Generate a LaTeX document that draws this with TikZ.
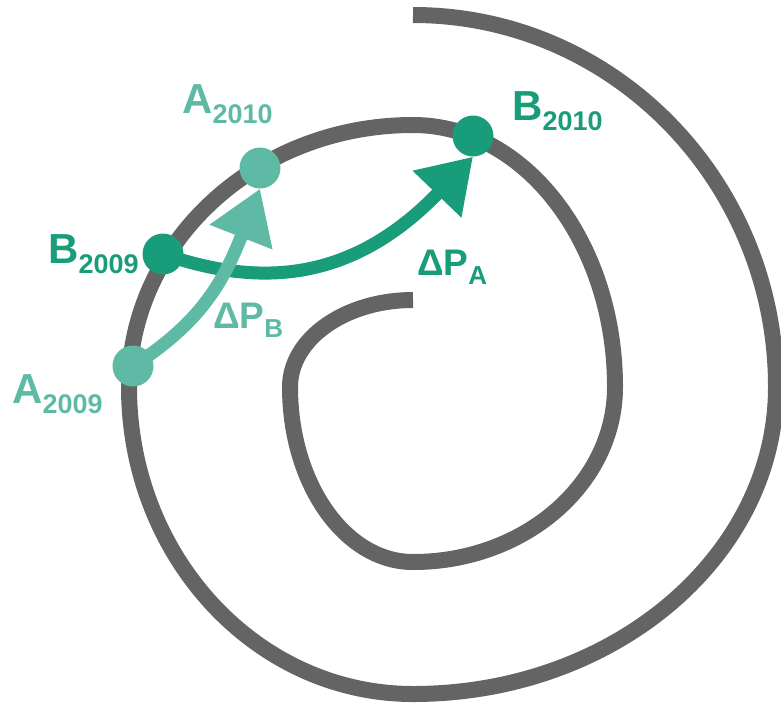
\documentclass[tikz,border=0pt]{standalone}
\usepackage{fontspec}
\setmainfont{Liberation Sans}
\usepackage{xcolor}
\usepackage{tikz}
\usetikzlibrary{arrows.meta}

\definecolor{spiralgray}{RGB}{100,100,100}
\definecolor{tealdark}{RGB}{25,156,122}
\definecolor{teallight}{RGB}{94,186,164}

\newcommand{\yearlbl}[2]{#1\raisebox{-10pt}{\fontsize{27}{27}\selectfont #2}}
\newcommand{\shiftlbl}[1]{{\fontsize{37}{37}\selectfont ΔP}\raisebox{-9pt}{\fontsize{26}{26}\selectfont #1}}

\begin{document}
\begin{tikzpicture}[x=1pt, y=-1pt,
  spiral/.style={spiralgray, line width=16pt},
  dot/.style={circle, inner sep=0pt, minimum size=41pt},
  lbl/.style={inner sep=0pt, anchor=base west, font=\bfseries\fontsize{42}{42}\selectfont},
  dlbl/.style={inner sep=0pt, anchor=base west, font=\bfseries},
  shiftarrow/.style={line width=13pt, -{Triangle[length=52pt, width=64pt]}}]
\useasboundingbox (0,0) rectangle (781,705);
\draw[spiral] (413,15)
  arc[start angle=-90, end angle=0, x radius=363, y radius=372]
  arc[start angle=0, end angle=90, x radius=363, y radius=307]
  arc[start angle=90, end angle=180, x radius=284, y radius=307]
  arc[start angle=180, end angle=270, x radius=284, y radius=262]
  arc[start angle=270, end angle=360, x radius=202, y radius=262]
  arc[start angle=0, end angle=90, x radius=202, y radius=175]
  arc[start angle=90, end angle=180, x radius=123, y radius=175]
  arc[start angle=180, end angle=270, x radius=123, y radius=87];
\node[dot, fill=teallight] (a2009) at (133,366) {};
\node[dot, fill=teallight] (a2010) at (260,168) {};
\node[dot, fill=tealdark] (b2009) at (163,254) {};
\node[dot, fill=tealdark] (b2010) at (473,136) {};
\draw[shiftarrow, tealdark] (b2009.center) .. controls (245,282) and (343,292) .. (b2010.south);
\draw[shiftarrow, teallight] (a2009.center) .. controls (200,323) and (223,283) .. (a2010.south);
\node[lbl, teallight] (la2010) at (182,113) {\yearlbl{A}{2010}};
\node[lbl, teallight] (la2009) at (12,403) {\yearlbl{A}{2009}};
\node[lbl, tealdark] (lb2009) at (48,263) {\yearlbl{B}{2009}};
\node[lbl, tealdark] (lb2010) at (512,120) {\yearlbl{B}{2010}};
\node[dlbl, teallight] (dpb) at (213,328) {\shiftlbl{B}};
\node[dlbl, tealdark] (dpa) at (417,275) {\shiftlbl{A}};
\end{tikzpicture}
\end{document}
